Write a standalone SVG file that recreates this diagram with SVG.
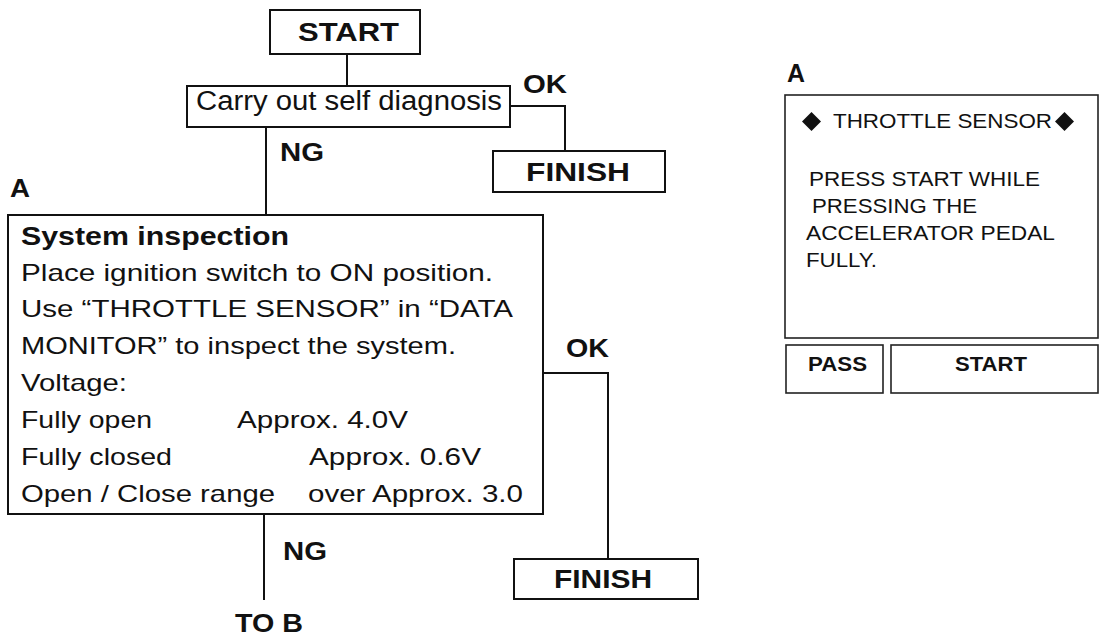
<svg xmlns="http://www.w3.org/2000/svg" width="1104" height="635" viewBox="0 0 1104 635">
<style>
.box{fill:#fff;stroke:#111;stroke-width:2}
.thin{fill:#fff;stroke:#222;stroke-width:1.6}
.t{font-family:"Liberation Sans",Arial,sans-serif;fill:#111}
.r{font-size:24px}
.b{font-weight:bold;font-size:25px}
.s{font-size:21px}
.conn{fill:none;stroke:#111;stroke-width:2}
</style>
<rect width="1104" height="635" fill="#fff"/>
<g id="connectors">
<path class="conn" d="M347 54V86"/>
<path class="conn" d="M510 106H565V151"/>
<path class="conn" d="M266 127V215"/>
<path class="conn" d="M543 373H608V559"/>
<path class="conn" d="M264 514V600"/>
</g>
<g id="labels">
<text class="t b" x="523" y="93" textLength="44" lengthAdjust="spacingAndGlyphs">OK</text>
<text class="t b" x="280" y="161" textLength="44" lengthAdjust="spacingAndGlyphs">NG</text>
<text class="t b" x="10" y="197" textLength="20" lengthAdjust="spacingAndGlyphs">A</text>
<text class="t b" x="566" y="357" textLength="43" lengthAdjust="spacingAndGlyphs">OK</text>
<text class="t b" x="283" y="560" textLength="44" lengthAdjust="spacingAndGlyphs">NG</text>
<text class="t b" x="235" y="632" textLength="68" lengthAdjust="spacingAndGlyphs">TO B</text>
</g>
<g id="start">
<rect class="box" x="270" y="10" width="150" height="44"/>
<text class="t b" x="298" y="41" style="font-size:26px" textLength="101" lengthAdjust="spacingAndGlyphs">START</text>
</g>
<g id="self-diagnosis">
<rect class="box" x="187" y="86" width="323" height="41"/>
<text class="t" x="196" y="110" style="font-size:27px" textLength="306" lengthAdjust="spacingAndGlyphs">Carry out self diagnosis</text>
</g>
<g id="finish1">
<rect class="box" x="493" y="151" width="172" height="41"/>
<text class="t b" x="526" y="181" textLength="104" lengthAdjust="spacingAndGlyphs">FINISH</text>
</g>
<g id="system-inspection">
<rect class="box" x="8" y="215" width="535" height="299"/>
<text class="t b" x="21" y="245" style="font-size:26px" textLength="268" lengthAdjust="spacingAndGlyphs">System inspection</text>
<text class="t r" x="21" y="281" textLength="472" lengthAdjust="spacingAndGlyphs">Place ignition switch to ON position.</text>
<text class="t r" x="21" y="317" textLength="492" lengthAdjust="spacingAndGlyphs">Use “THROTTLE SENSOR” in “DATA</text>
<text class="t r" x="21" y="354" textLength="435" lengthAdjust="spacingAndGlyphs">MONITOR” to inspect the system.</text>
<text class="t r" x="21" y="391" textLength="106" lengthAdjust="spacingAndGlyphs">Voltage:</text>
<text class="t r" x="21" y="428" textLength="131" lengthAdjust="spacingAndGlyphs">Fully open</text>
<text class="t r" x="237" y="428" textLength="171" lengthAdjust="spacingAndGlyphs">Approx. 4.0V</text>
<text class="t r" x="21" y="465" textLength="151" lengthAdjust="spacingAndGlyphs">Fully closed</text>
<text class="t r" x="309" y="465" textLength="172" lengthAdjust="spacingAndGlyphs">Approx. 0.6V</text>
<text class="t r" x="21" y="502" textLength="254" lengthAdjust="spacingAndGlyphs">Open / Close range</text>
<text class="t r" x="308" y="502" textLength="215" lengthAdjust="spacingAndGlyphs">over Approx. 3.0</text>
</g>
<g id="finish2">
<rect class="box" x="514" y="559" width="184" height="40"/>
<text class="t b" x="554" y="588" textLength="98" lengthAdjust="spacingAndGlyphs">FINISH</text>
</g>
<g id="screen-a">
<text class="t b" x="787" y="82" textLength="18" lengthAdjust="spacingAndGlyphs">A</text>
<rect class="thin" x="785" y="95" width="313" height="243"/>
<polygon points="811.5,112 821,121.5 811.5,131 802,121.5" fill="#111"/>
<text class="t s" x="833" y="128" textLength="219" lengthAdjust="spacingAndGlyphs">THROTTLE SENSOR</text>
<polygon points="1064.5,112 1074,121.5 1064.5,131 1055,121.5" fill="#111"/>
<text class="t s" x="809" y="186" textLength="231" lengthAdjust="spacingAndGlyphs">PRESS START WHILE</text>
<text class="t s" x="812" y="213" textLength="165" lengthAdjust="spacingAndGlyphs">PRESSING THE</text>
<text class="t s" x="806" y="240" textLength="249" lengthAdjust="spacingAndGlyphs">ACCELERATOR PEDAL</text>
<text class="t s" x="806" y="267" textLength="71" lengthAdjust="spacingAndGlyphs">FULLY.</text>
</g>
<g id="pass-button">
<rect class="thin" x="786" y="345" width="97" height="48"/>
<text class="t s" font-weight="bold" x="808" y="371" textLength="59" lengthAdjust="spacingAndGlyphs">PASS</text>
</g>
<g id="start-button">
<rect class="thin" x="891" y="345" width="207" height="48"/>
<text class="t s" font-weight="bold" x="955" y="371" textLength="72" lengthAdjust="spacingAndGlyphs">START</text>
</g>
</svg>
